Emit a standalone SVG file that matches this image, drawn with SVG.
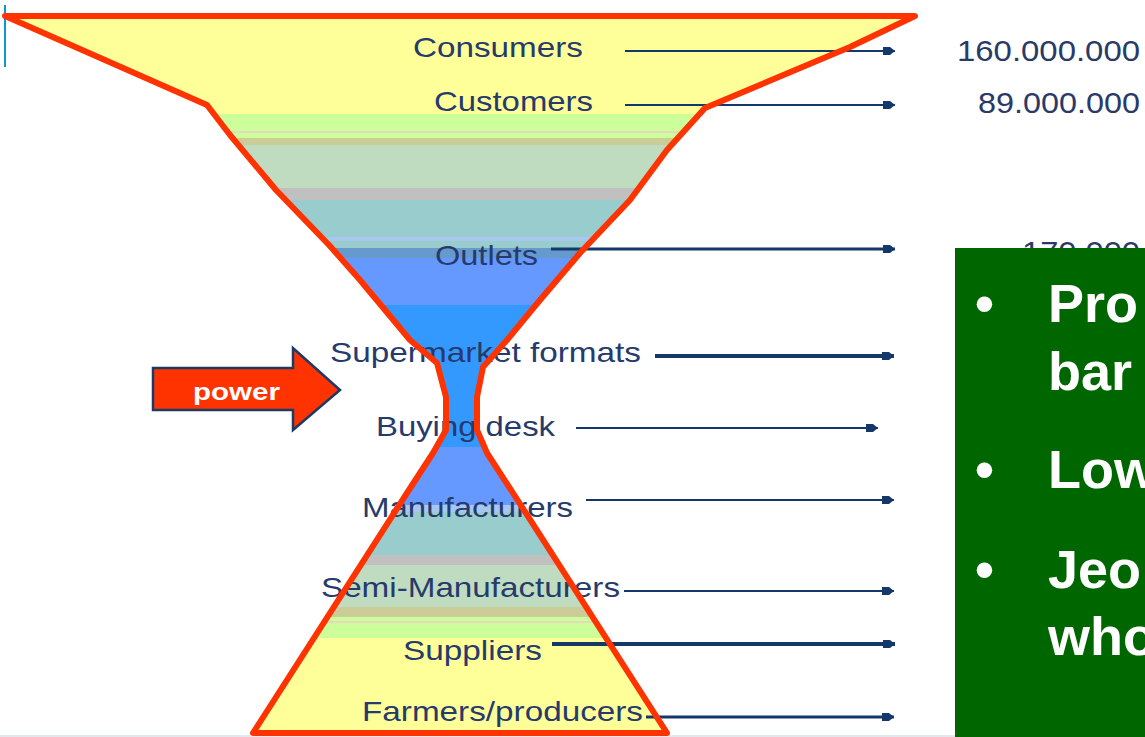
<svg xmlns="http://www.w3.org/2000/svg" width="1145" height="737" viewBox="0 0 1145 737">
<style>
.lbl{font-family:"Liberation Sans",Arial,sans-serif;font-size:28px;fill:#263a6c;lengthAdjust:spacingAndGlyphs}
.num{font-family:"Liberation Sans",Arial,sans-serif;font-size:30px;fill:#2a3a68}
.con{stroke:#15386a;fill:none}
.bul{font-family:"Liberation Sans",Arial,sans-serif;font-size:54px;font-weight:bold;fill:#ffffff}
</style>
<defs>
<marker id="ah" markerUnits="userSpaceOnUse" markerWidth="12" markerHeight="10" refX="12" refY="5" orient="auto">
<path d="M0,1 L7,1 L12,5 L7,9 L0,9 Z" fill="#15386a"/>
</marker>
<clipPath id="hg">
<path d="M5,16 L207,105 L230,135 L276,190 L329,245 L360,280 L410,340 L437,363 L446,397 L446,430 L433,453 L407,493 L253,733 L667,733 L513,493 L487,453 L477,430 L477,397 L483,367 L507,340 L540,300 L580,253 L630,200 L667,150 L705,108 L850,47 L915,16 Z"/>
</clipPath>
</defs>
<rect width="1145" height="737" fill="#ffffff"/>
<line x1="5" y1="5" x2="5" y2="67" stroke="#0b9ad0" stroke-width="2"/>
<line x1="0" y1="736" x2="1145" y2="736" stroke="#c9d2de" stroke-width="1"/>

<g id="hourglass-fill" clip-path="url(#hg)">
<rect x="0" y="0" width="1000" height="114" fill="#FFFF99"/>
<rect x="0" y="114" width="1000" height="17" fill="#CCFF99"/>
<rect x="0" y="131" width="1000" height="2" fill="#E8D8C0"/>
<rect x="0" y="133" width="1000" height="5" fill="#CCFF99"/>
<rect x="0" y="138" width="1000" height="7" fill="#CCCC99"/>
<rect x="0" y="145" width="1000" height="43" fill="#C0DCC0"/>
<rect x="0" y="188" width="1000" height="12" fill="#C0C0C0"/>
<rect x="0" y="200" width="1000" height="37" fill="#99CCCC"/>
<rect x="0" y="237" width="1000" height="4" fill="#A6C8F0"/>
<rect x="0" y="241" width="1000" height="7" fill="#99CCCC"/>
<rect x="0" y="248" width="1000" height="10" fill="#6699CC"/>
<rect x="0" y="258" width="1000" height="47" fill="#6699FF"/>
<rect x="0" y="305" width="1000" height="142" fill="#3399FF"/>
<rect x="0" y="447" width="1000" height="58" fill="#6699FF"/>
<rect x="0" y="505" width="1000" height="7" fill="#A6C8F0"/>
<rect x="0" y="512" width="1000" height="43" fill="#99CCCC"/>
<rect x="0" y="555" width="1000" height="10" fill="#C0C0C0"/>
<rect x="0" y="565" width="1000" height="42" fill="#C0DCC0"/>
<rect x="0" y="607" width="1000" height="10" fill="#CCCC99"/>
<rect x="0" y="617" width="1000" height="4" fill="#CCFF99"/>
<rect x="0" y="621" width="1000" height="2" fill="#E8D8C0"/>
<rect x="0" y="623" width="1000" height="15" fill="#CCFF99"/>
<rect x="0" y="638" width="1000" height="110" fill="#FFFF99"/>
</g>

<g id="connectors">
<line class="con" x1="625" y1="51" x2="895" y2="51" stroke-width="2" marker-end="url(#ah)"/>
<line class="con" x1="625" y1="105" x2="895" y2="105" stroke-width="2" marker-end="url(#ah)"/>
<line class="con" x1="551" y1="249" x2="895" y2="249" stroke-width="3" marker-end="url(#ah)"/>
<line class="con" x1="655" y1="356" x2="894" y2="356" stroke-width="4" marker-end="url(#ah)"/>
<line class="con" x1="576" y1="428" x2="878" y2="428" stroke-width="2" marker-end="url(#ah)"/>
<line class="con" x1="586" y1="500" x2="894" y2="500" stroke-width="2" marker-end="url(#ah)"/>
<line class="con" x1="624" y1="591" x2="894" y2="591" stroke-width="2" marker-end="url(#ah)"/>
<line class="con" x1="552" y1="644" x2="895" y2="644" stroke-width="4" marker-end="url(#ah)"/>
<line class="con" x1="646" y1="717" x2="894" y2="717" stroke-width="3" marker-end="url(#ah)"/>
</g>

<g id="consumers"><text class="lbl" x="413" y="57" textLength="170" lengthAdjust="spacingAndGlyphs">Consumers</text><text class="num" x="957" y="61" textLength="183" lengthAdjust="spacingAndGlyphs">160.000.000</text></g>
<g id="customers"><text class="lbl" x="434" y="111" textLength="159" lengthAdjust="spacingAndGlyphs">Customers</text><text class="num" x="978" y="113" textLength="162" lengthAdjust="spacingAndGlyphs">89.000.000</text></g>
<g id="outlets"><text class="lbl" x="435" y="265" textLength="103" lengthAdjust="spacingAndGlyphs">Outlets</text><text class="num" x="1022" y="262" textLength="118" lengthAdjust="spacingAndGlyphs">170.000</text></g>
<g id="supermarket-formats"><text class="lbl" x="330" y="362" textLength="311" lengthAdjust="spacingAndGlyphs">Supermarket formats</text></g>
<g id="buying-desk"><text class="lbl" x="376" y="436" textLength="179" lengthAdjust="spacingAndGlyphs">Buying desk</text></g>
<g id="manufacturers"><text class="lbl" x="362" y="517" textLength="211" lengthAdjust="spacingAndGlyphs">Manufacturers</text></g>
<g id="semi-manufacturers"><text class="lbl" x="321" y="597" textLength="299" lengthAdjust="spacingAndGlyphs">Semi-Manufacturers</text></g>
<g id="suppliers"><text class="lbl" x="403" y="660" textLength="139" lengthAdjust="spacingAndGlyphs">Suppliers</text></g>
<g id="farmers-producers"><text class="lbl" x="362" y="721" textLength="281" lengthAdjust="spacingAndGlyphs">Farmers/producers</text></g>

<g id="hourglass-outline">
<path d="M5,16 L207,105 L230,135 L276,190 L329,245 L360,280 L410,340 L437,363 L446,397 L446,430 L433,453 L407,493 L253,733 L667,733 L513,493 L487,453 L477,430 L477,397 L483,367 L507,340 L540,300 L580,253 L630,200 L667,150 L705,108 L850,47 L915,16 Z" fill="none" stroke="#FF3300" stroke-width="6" stroke-linejoin="round"/>
</g>

<g id="power">
<path d="M153,368 L293,368 L293,348 L340,390 L293,430 L293,410 L153,410 Z" fill="#FF3300" stroke="#1d3a66" stroke-width="2.5" stroke-linejoin="miter"/>
<text x="193" y="400" font-family="Liberation Sans, Arial, sans-serif" font-size="24" font-weight="bold" fill="#ffffff" textLength="87" lengthAdjust="spacingAndGlyphs">power</text>
</g>

<g id="green-box">
<rect x="955" y="248" width="195" height="495" fill="#006600"/>
<text class="bul" x="975" y="322">•</text>
<text class="bul" x="1048" y="322">Pro</text>
<text class="bul" x="1048" y="390">bar</text>
<text class="bul" x="975" y="488">•</text>
<text class="bul" x="1048" y="488">Low</text>
<text class="bul" x="975" y="588">•</text>
<text class="bul" x="1048" y="588">Jeo</text>
<text class="bul" x="1048" y="655">who</text>
</g>
</svg>
